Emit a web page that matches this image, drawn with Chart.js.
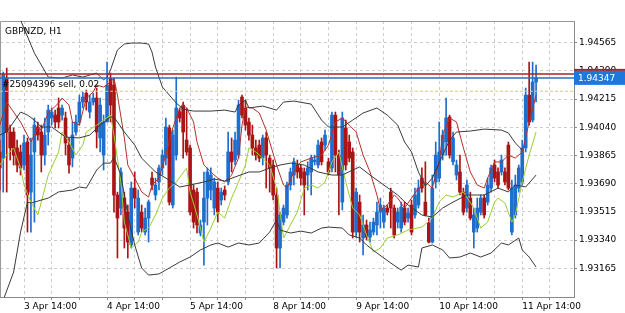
<!DOCTYPE html>
<html>
<head>
<meta charset="utf-8">
<script src="https://cdn.jsdelivr.net/npm/chart.js@4.4.0/dist/chart.umd.min.js"></script>
<style>
  html, body { margin: 0; padding: 0; background: #fff; }
  #wrap { width: 625px; height: 313px; }
</style>
</head>
<body>
<div id="wrap"><canvas id="chart"></canvas></div>
<script>
// GBPNZD H1 candles, bar 0 = 3 Apr 14:00
var firstBar = -7;

var open = [
  1.93887,1.93849,1.94346,1.94011,1.94011,1.93912,1.93887,1.93806,1.93949,1.93638,
  1.93887,1.94042,1.94011,1.93868,1.94011,1.94098,1.94116,1.94160,1.94116,1.94098,
  1.93930,1.93849,1.94011,1.94073,1.94197,1.94252,1.94135,1.94197,1.94222,1.93974,
  1.93868,1.94073,1.94346,1.94302,1.93620,1.93539,1.93601,1.93514,1.93310,1.93663,
  1.93390,1.93514,1.93390,1.93477,1.93725,1.93620,1.93701,1.93788,1.93849,1.94036,
  1.93558,1.93868,1.94135,1.94178,1.93961,1.93912,1.93651,1.93638,1.93384,1.93452,
  1.93601,1.93651,1.93539,1.93663,1.93589,1.93651,1.93701,1.93887,1.93837,1.93868,
  1.94228,1.94160,1.94073,1.93992,1.93912,1.93930,1.93849,1.93974,1.93849,1.93806,
  1.93620,1.93291,1.93452,1.93496,1.93682,1.93744,1.93806,1.93788,1.93763,1.93744,
  1.93763,1.93826,1.93806,1.93949,1.93930,1.93826,1.93788,1.94116,1.93868,1.93576,
  1.94036,1.93949,1.93887,1.93390,1.93576,1.93353,1.93434,1.93359,1.93390,1.93434,
  1.93514,1.93452,1.93539,1.93638,1.93539,1.93452,1.93415,1.93539,1.93477,1.93558,
  1.93496,1.93558,1.93725,1.93576,1.93446,1.93328,1.93701,1.93725,1.93868,1.93949,
  1.94104,1.93826,1.93744,1.93763,1.93638,1.93539,1.93601,1.93390,1.93415,1.93514,
  1.93601,1.93576,1.93663,1.93806,1.93763,1.93763,1.93763,1.93930,1.93390,1.93496,
  1.93663,1.93701,1.93912,1.94240,1.94085,1.94321
];
var high = [
  1.93961,1.94383,1.94408,1.94054,1.94036,1.93961,1.93930,1.93992,1.93974,1.93974,
  1.94098,1.94073,1.94054,1.94098,1.94178,1.94160,1.94147,1.94222,1.94178,1.94135,
  1.93974,1.94073,1.94116,1.94240,1.94259,1.94271,1.94240,1.94252,1.94284,1.94222,
  1.94116,1.94445,1.94377,1.94346,1.93638,1.93788,1.93638,1.93558,1.93701,1.93763,
  1.93651,1.93558,1.93539,1.93589,1.93763,1.93725,1.93806,1.93899,1.94098,1.94054,
  1.94023,1.94352,1.94160,1.94197,1.94160,1.93930,1.93682,1.93663,1.93465,1.93763,
  1.93788,1.93788,1.93725,1.93701,1.93663,1.93676,1.94011,1.93974,1.94011,1.94209,
  1.94240,1.94209,1.94098,1.94054,1.93961,1.93961,1.93992,1.94011,1.93868,1.93837,
  1.93663,1.93514,1.93558,1.93701,1.93788,1.93849,1.93837,1.93806,1.93788,1.93826,
  1.93868,1.93868,1.93961,1.93974,1.94023,1.93849,1.94135,1.94135,1.93899,1.94135,
  1.94085,1.93992,1.93912,1.93663,1.93620,1.93496,1.93465,1.93452,1.93477,1.93576,
  1.93601,1.93558,1.93558,1.93663,1.93558,1.93539,1.93576,1.93576,1.93539,1.93589,
  1.93663,1.93713,1.93788,1.93826,1.93477,1.93744,1.93949,1.94073,1.94023,1.94222,
  1.94116,1.94011,1.93837,1.93868,1.93663,1.93713,1.93638,1.93539,1.93601,1.93620,
  1.93620,1.93725,1.93806,1.93837,1.93788,1.93868,1.93788,1.93949,1.93713,1.93744,
  1.93806,1.93961,1.94284,1.94445,1.94445,1.94427
];
var low = [
  1.93651,1.93638,1.93638,1.93837,1.93806,1.93763,1.93744,1.93775,1.93390,1.93390,
  1.93452,1.93961,1.93763,1.93806,1.93930,1.94054,1.94036,1.94036,1.94085,1.93868,
  1.93756,1.93794,1.93992,1.94054,1.94160,1.94147,1.94098,1.94178,1.93912,1.93887,
  1.93775,1.94073,1.94073,1.93514,1.93229,1.93496,1.93291,1.93229,1.93291,1.93539,
  1.93372,1.93390,1.93372,1.93328,1.93651,1.93589,1.93651,1.93744,1.93806,1.93558,
  1.93539,1.93837,1.94073,1.93849,1.93868,1.93496,1.93415,1.93384,1.93366,1.93184,
  1.93434,1.93589,1.93496,1.93452,1.93558,1.93589,1.93682,1.93763,1.93806,1.93849,
  1.94098,1.94023,1.93961,1.93868,1.93837,1.93826,1.93806,1.93663,1.93638,1.93589,
  1.93168,1.93168,1.93434,1.93477,1.93651,1.93682,1.93725,1.93682,1.93496,1.93651,
  1.93620,1.93806,1.93788,1.93806,1.93899,1.93744,1.93763,1.93763,1.93496,1.93527,
  1.93775,1.93826,1.93353,1.93359,1.93328,1.93248,1.93341,1.93328,1.93372,1.93372,
  1.93415,1.93415,1.93496,1.93415,1.93353,1.93415,1.93390,1.93434,1.93452,1.93372,
  1.93477,1.93539,1.93638,1.93490,1.93322,1.93322,1.93663,1.93701,1.93837,1.93868,
  1.93849,1.93806,1.93713,1.93620,1.93496,1.93514,1.93465,1.93291,1.93390,1.93496,
  1.93477,1.93558,1.93638,1.93701,1.93663,1.93744,1.93682,1.93651,1.93372,1.93477,
  1.93638,1.93682,1.93887,1.94054,1.94073,1.94197
];
var close = [
  1.93788,1.94365,1.94011,1.93912,1.93868,1.93806,1.93788,1.93943,1.93620,1.93868,
  1.94054,1.93992,1.93868,1.93992,1.94147,1.94135,1.94073,1.94073,1.94160,1.93943,
  1.93806,1.93992,1.94073,1.94197,1.94228,1.94197,1.94197,1.94222,1.94011,1.94178,
  1.94073,1.94302,1.94178,1.93620,1.93477,1.93763,1.93415,1.93328,1.93663,1.93601,
  1.93601,1.93415,1.93477,1.93576,1.93682,1.93682,1.93788,1.93868,1.94042,1.93576,
  1.93992,1.94160,1.94098,1.94011,1.93887,1.93514,1.93452,1.93434,1.93434,1.93601,
  1.93763,1.93744,1.93701,1.93514,1.93638,1.93620,1.93887,1.93826,1.93961,1.94178,
  1.94116,1.94054,1.93992,1.93912,1.93868,1.93849,1.93974,1.93868,1.93788,1.93620,
  1.93291,1.93496,1.93539,1.93682,1.93763,1.93826,1.93763,1.93725,1.93682,1.93788,
  1.93849,1.93837,1.93930,1.93826,1.93992,1.93763,1.94116,1.93868,1.93744,1.94098,
  1.93806,1.93849,1.93390,1.93638,1.93390,1.93434,1.93359,1.93403,1.93452,1.93514,
  1.93558,1.93539,1.93514,1.93539,1.93372,1.93514,1.93545,1.93452,1.93508,1.93390,
  1.93620,1.93663,1.93663,1.93496,1.93328,1.93663,1.93868,1.93887,1.93992,1.94098,
  1.93868,1.93974,1.93806,1.93638,1.93514,1.93682,1.93477,1.93496,1.93539,1.93601,
  1.93496,1.93682,1.93788,1.93725,1.93682,1.93837,1.93701,1.93663,1.93663,1.93682,
  1.93788,1.93912,1.94240,1.94073,1.94321,1.94347
];

// indicator lines: [bar, price]
var bbUpper = [[-5,1.94910],[-1,1.94706],[3,1.94501],[7,1.94352],[11,1.94346],[14,1.94365],[17,1.94352],
  [21,1.94377],[23,1.94334],[24,1.94352],[25,1.94396],[27,1.94520],[29,1.94557],[31,1.94563],[34,1.94563],
  [36,1.94557],[37,1.94507],[38,1.94414],[40,1.94290],[42,1.94240],[44,1.94191],[46,1.94153],[49,1.94141],
  [54,1.94141],[58,1.94147],[61,1.94135],[62,1.94178],[64,1.94209],[65,1.94160],[69,1.94172],[73,1.94147],
  [75,1.94197],[78,1.94203],[83,1.94184],[86,1.94085],[88,1.94042],[92,1.94042],[95,1.94085],[98,1.94129],
  [102,1.94160],[105,1.94116],[108,1.94054],[110,1.93949],[112,1.93887],[114,1.93763],[116,1.93676],
  [118,1.93725],[121,1.93868],[123,1.93961],[125,1.94011],[129,1.94017],[133,1.94029],[138,1.94023],
  [140,1.94005],[142,1.93943],[144,1.93899]];
var bbMiddle = [[-7,1.93992],[-5,1.94011],[-1,1.94135],[1,1.94116],[3,1.94085],[5,1.94042],[8,1.94042],
  [12,1.93980],[16,1.93974],[19,1.93992],[22,1.94054],[25,1.94104],[26,1.94104],[29,1.94011],[32,1.93930],
  [34,1.93849],[38,1.93763],[41,1.93725],[45,1.93670],[48,1.93682],[52,1.93701],[55,1.93719],[58,1.93707],
  [61,1.93732],[65,1.93763],[68,1.93763],[71,1.93787],[74,1.93806],[77,1.93818],[81,1.93806],[85,1.93763],
  [89,1.93744],[92,1.93744],[95,1.93775],[97,1.93794],[100,1.93744],[104,1.93682],[108,1.93620],
  [111,1.93558],[115,1.93496],[118,1.93483],[121,1.93539],[124,1.93576],[128,1.93620],[133,1.93620],
  [137,1.93663],[140,1.93639],[142,1.93682],[145,1.93670],[148,1.93744]];
var bbLower = [[-6,1.92968],[-3,1.93142],[-1,1.93390],[1,1.93576],[2,1.93570],[7,1.93601],[10,1.93639],
  [14,1.93651],[16,1.93670],[18,1.93663],[21,1.93775],[23,1.93818],[25,1.93818],[26,1.93856],[28,1.93744],
  [30,1.93496],[32,1.93310],[34,1.93167],[36,1.93123],[39,1.93130],[42,1.93167],[45,1.93204],[48,1.93235],
  [51,1.93279],[54,1.93310],[56,1.93322],[59,1.93297],[62,1.93322],[65,1.93310],[68,1.93322],[71,1.93390],
  [73,1.93465],[74,1.93403],[77,1.93384],[80,1.93396],[83,1.93384],[86,1.93415],[88,1.93421],[92,1.93415],
  [94,1.93372],[97,1.93353],[99,1.93310],[102,1.93260],[106,1.93198],[109,1.93154],[111,1.93185],
  [114,1.93173],[115,1.93291],[118,1.93310],[121,1.93279],[123,1.93229],[126,1.93235],[129,1.93260],
  [132,1.93235],[135,1.93260],[138,1.93322],[140,1.93310],[143,1.93353],[144,1.93279],[146,1.93235],
  [148,1.93173]];
var maRed = [[-7,1.94054],[-5,1.94197],[-3,1.94135],[-1,1.94073],[2,1.93949],[4,1.94036],[5,1.94023],
  [7,1.94129],[10,1.94191],[11,1.94222],[13,1.94178],[14,1.94073],[16,1.94054],[18,1.94222],[20,1.94259],
  [21,1.94302],[23,1.94290],[25,1.94321],[26,1.94346],[27,1.94240],[29,1.93974],[30,1.93806],[32,1.93725],
  [34,1.93639],[36,1.93607],[37,1.93682],[39,1.93725],[41,1.93868],[43,1.94036],[45,1.94160],[46,1.94178],
  [47,1.94160],[49,1.94073],[50,1.93949],[52,1.93806],[54,1.93763],[56,1.93725],[58,1.93701],[60,1.93744],
  [62,1.93849],[63,1.94054],[64,1.94166],[66,1.94160],[68,1.94129],[70,1.94023],[71,1.93949],[73,1.93806],
  [75,1.93682],[76,1.93663],[78,1.93763],[80,1.93825],[83,1.93849],[86,1.93868],[88,1.93930],[90,1.94073],
  [92,1.94098],[94,1.94054],[96,1.94011],[98,1.93868],[100,1.93763],[102,1.93620],[103,1.93527],
  [105,1.93558],[107,1.93620],[108,1.93601],[110,1.93539],[114,1.93663],[116,1.93701],[118,1.93663],
  [120,1.93825],[121,1.93992],[123,1.94098],[125,1.94073],[127,1.93912],[129,1.93763],[131,1.93682],
  [133,1.93663],[134,1.93725],[136,1.93825],[138,1.93825],[140,1.93868],[142,1.93849],[144,1.93887],
  [146,1.94073],[148,1.94240]];
var maGreen = [[-7,1.93806],[-5,1.93868],[-3,1.93912],[-1,1.93787],[0,1.93682],[2,1.93576],[4,1.93496],
  [5,1.93576],[7,1.93744],[10,1.93887],[11,1.94011],[13,1.93949],[15,1.93868],[17,1.93930],[18,1.94011],
  [21,1.94054],[23,1.94085],[25,1.94116],[26,1.93992],[28,1.93701],[29,1.93452],[31,1.93291],[33,1.93328],
  [34,1.93390],[36,1.93415],[38,1.93496],[40,1.93601],[42,1.93663],[44,1.93701],[47,1.93787],[48,1.93639],
  [50,1.93496],[52,1.93328],[54,1.93415],[56,1.93514],[58,1.93477],[60,1.93601],[62,1.93701],[64,1.93806],
  [65,1.93912],[67,1.93887],[68,1.93868],[71,1.93806],[73,1.93663],[74,1.93514],[75,1.93353],[77,1.93434],
  [79,1.93514],[81,1.93663],[83,1.93682],[85,1.93663],[87,1.93701],[89,1.93825],[91,1.93887],[93,1.93701],
  [95,1.93539],[97,1.93496],[99,1.93372],[101,1.93266],[103,1.93291],[105,1.93353],[108,1.93372],
  [111,1.93403],[115,1.93421],[118,1.93477],[120,1.93576],[122,1.93620],[124,1.93607],[127,1.93639],
  [130,1.93539],[132,1.93415],[134,1.93452],[136,1.93576],[137,1.93601],[139,1.93570],[141,1.93452],
  [142,1.93496],[144,1.93701],[146,1.93868],[148,1.94011]];

var priceTicks = [1.94565, 1.94390, 1.94215, 1.94040, 1.93865, 1.93690, 1.93515, 1.93340, 1.93165];
var timeLabels = ['3 Apr 14:00', '4 Apr 14:00', '5 Apr 14:00', '8 Apr 14:00', '9 Apr 14:00', '10 Apr 14:00', '11 Apr 14:00'];
var bidPrice = 1.94347;
var orderPrice = 1.94371;
var orderText = '#25094396 sell, 0.02';
var dashPrice = 1.94267;

var BLUE = '#1e6ecd', RED = '#aa1414';
var FONT = { family: 'DejaVu Sans', size: 9 };

var bars = open.map(function (o, k) { return k + firstBar; });
var wicks = bars.map(function (x, k) { return { x: x, y: [low[k], high[k]] }; });
var bodies = bars.map(function (x, k) { return { x: x, y: [open[k], close[k]] }; });
var colors = bars.map(function (x, k) { return close[k] >= open[k] ? BLUE : RED; });

function pts(arr) { return arr.map(function (p) { return { x: p[0], y: p[1] }; }); }
function lineSet(arr, color) {
  return { type: 'line', data: pts(arr), borderColor: color, borderWidth: 1, pointRadius: 0, tension: 0, order: 0 };
}

// one grid line every 8 bars, label every 24
var gridBars = [];
for (var g = 0; g <= 152; g += 8) gridBars.push(g);

var overlay = {
  id: 'overlay',
  beforeDatasetsDraw: function (chart) {
    var ctx = chart.ctx, a = chart.chartArea;
    ctx.save();
    ctx.strokeStyle = '#999'; ctx.lineWidth = 1;
    ctx.beginPath();
    ctx.moveTo(a.left + 0.5, a.bottom); ctx.lineTo(a.left + 0.5, a.top + 0.5); ctx.lineTo(a.right, a.top + 0.5);
    ctx.stroke();
    ctx.restore();
  },
  afterDatasetsDraw: function (chart) {
    var ctx = chart.ctx, a = chart.chartArea, y = chart.scales.y;
    var yb = y.getPixelForValue(bidPrice), yo = y.getPixelForValue(orderPrice), yd = y.getPixelForValue(dashPrice);
    ctx.save();
    // dashed level
    ctx.strokeStyle = '#d2d25a'; ctx.lineWidth = 1; ctx.setLineDash([3, 2]);
    ctx.beginPath(); ctx.moveTo(a.left, yd + 0.5); ctx.lineTo(a.right, yd + 0.5); ctx.stroke();
    ctx.setLineDash([]);
    // order line
    ctx.strokeStyle = '#a0281e'; ctx.lineWidth = 1.5;
    ctx.beginPath(); ctx.moveTo(a.left, yo); ctx.lineTo(a.right, yo); ctx.stroke();
    // bid line
    ctx.strokeStyle = '#2a6fc0'; ctx.lineWidth = 1.5;
    ctx.beginPath(); ctx.moveTo(a.left, yb); ctx.lineTo(a.right, yb); ctx.stroke();
    // text
    ctx.fillStyle = '#000'; ctx.font = '9px "DejaVu Sans"'; ctx.textBaseline = 'middle'; ctx.textAlign = 'left';
    ctx.fillText('GBPNZD, H1', a.left + 5, a.top + 11);
    ctx.fillText(orderText, a.left + 2, yo + 11);
    // price boxes on axis
    ctx.fillStyle = '#a0281e';
    ctx.fillRect(a.right, yb - 9, 625 - a.right, 2);
    ctx.fillStyle = '#1e78dc';
    ctx.fillRect(a.right, yb - 7, 625 - a.right, 14);
    ctx.fillStyle = '#fff';
    ctx.fillText(bidPrice.toFixed(5), a.right + 4, yb + 0.5);
    ctx.restore();
  }
};

new Chart(document.getElementById('chart'), {
  type: 'bar',
  data: {
    datasets: [
      lineSet(bbUpper, '#3a3a3a'),
      lineSet(bbMiddle, '#3a3a3a'),
      lineSet(bbLower, '#3a3a3a'),
      lineSet(maRed, '#b4322a'),
      lineSet(maGreen, '#9acd32'),
      { data: bodies, backgroundColor: colors, barThickness: 3, grouped: false, order: 1 },
      { data: wicks, backgroundColor: colors, barThickness: 1, grouped: false, order: 2 }
    ]
  },
  options: {
    responsive: true,
    maintainAspectRatio: false,
    animation: false,
    devicePixelRatio: 1,
    layout: { padding: { top: 21, left: 0, right: 0, bottom: 0 } },
    plugins: { legend: { display: false }, tooltip: { enabled: false } },
    scales: {
      x: {
        type: 'linear', min: -6.94, max: 158.96, offset: false,
        afterBuildTicks: function (s) { s.ticks = gridBars.map(function (v) { return { value: v }; }); },
        afterFit: function (s) { s.height = 16; s.paddingLeft = 0; s.paddingRight = 0; },
        ticks: {
          autoSkip: false, maxRotation: 0, align: 'start', padding: 1, color: '#000', font: FONT,
          callback: function (v) { return (v % 24 === 0) ? (timeLabels[v / 24] || '') : ''; }
        },
        grid: { offset: false, color: '#cccccc', tickLength: 3, tickColor: '#888', tickBorderDash: [] },
        border: { color: '#888', dash: [3, 3] }
      },
      y: {
        position: 'right', min: 1.92987, max: 1.94700,
        afterBuildTicks: function (s) { s.ticks = priceTicks.map(function (v) { return { value: v }; }); },
        afterFit: function (s) { s.width = 51; },
        ticks: { padding: 2, color: '#000', font: FONT, callback: function (v) { return v.toFixed(5); } },
        grid: { color: '#cccccc', tickLength: 3, tickColor: '#888', tickBorderDash: [] },
        border: { color: '#888', dash: [3, 3] }
      }
    }
  },
  plugins: [overlay]
});
</script>
</body>
</html>
